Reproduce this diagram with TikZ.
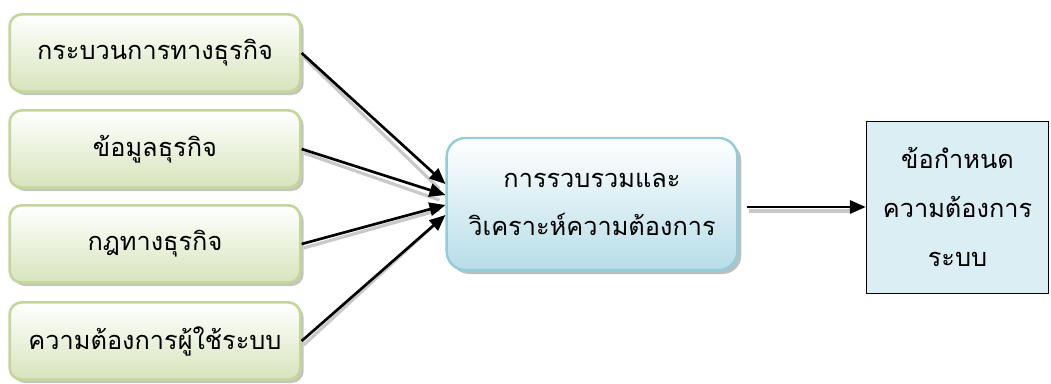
\documentclass[tikz,border=0pt]{standalone}
\usepackage{fontspec}
\newfontfamily\thaifont[Script=Thai]{Loma}
\usetikzlibrary{calc,arrows.meta,shadows}
\definecolor{greenline}{HTML}{C3D69B}
\definecolor{greenfill}{HTML}{D7E4BC}
\definecolor{blueline}{HTML}{92CDDC}
\definecolor{bluefill}{HTML}{B7DDE8}
\definecolor{outfill}{HTML}{DBEEF4}
\definecolor{shade}{HTML}{A5A5A5}
\tikzset{
  srcbox/.style={draw=greenline, line width=2pt, rounded corners=9pt,
    top color=white, bottom color=greenfill, minimum width=218pt, minimum height=58pt,
    drop shadow={shadow xshift=2.5pt, shadow yshift=-2.5pt, fill=shade!70!greenfill, opacity=0.8},
    font=\thaifont\fontsize{19}{22}\selectfont},
  procbox/.style={draw=blueline, line width=1.8pt, rounded corners=14pt,
    top color=white, bottom color=bluefill, minimum width=218pt, minimum height=99pt,
    drop shadow={shadow xshift=3pt, shadow yshift=-3pt, fill=shade!80!bluefill, opacity=0.8},
    align=center, font=\thaifont\fontsize{19}{36}\selectfont},
  outbox/.style={draw=black, line width=0.6pt, fill=outfill, minimum width=137pt,
    minimum height=129pt, align=center, font=\thaifont\fontsize{19}{37}\selectfont},
  flow/.style={draw=black, line width=2pt, -{Triangle[length=12pt,width=10pt]}},
  flowshade/.style={draw=shade!60, line width=2.4pt},
}
\begin{document}
\begin{tikzpicture}[x=0.75pt,y=-0.75pt]
  \useasboundingbox (0,0) rectangle (1051,383);
  % input boxes
  \node[srcbox] (proc) at (155,53) {กระบวนการทางธุรกิจ};
  \node[srcbox] (data) at (155,149) {ข้อมูลธุรกิจ};
  \node[srcbox] (rule) at (155,244) {กฎทางธุรกิจ};
  \node[srcbox] (user) at (155,341) {ความต้องการผู้ใช้ระบบ};
  % gather and analyse
  \node[procbox] (mid) at (592,204) {การรวบรวมและ\\วิเคราะห์ความต้องการ};
  % result
  \node[outbox] (req) at (957.5,207) {ข้อกำหนด\\ความต้องการ\\ระบบ};
  % arrows
  \coordinate (in1) at ($(mid.west)+(0,-20)$);
  \coordinate (in2) at ($(mid.west)+(0,-9)$);
  \coordinate (in3) at ($(mid.west)+(0,1)$);
  \coordinate (in4) at ($(mid.west)+(0,11)$);
  \coordinate (out) at ($(mid.east)+(8,0)$);
  \foreach \s/\t in {proc/in1,data/in2,rule/in3,user/in4}
    \draw[flowshade] ($(\s.east)+(2,4)$) -- ($(\t)+(-6,5)$);
  \draw[flowshade] ($(out |- req.west)+(2,4)$) -- ($(req.west)+(-14,4)$);
  \draw[flow] (proc.east) -- (in1);
  \draw[flow] (data.east) -- (in2);
  \draw[flow] (rule.east) -- (in3);
  \draw[flow] (user.east) -- (in4);
  \draw[flow] (out |- req.west) -- (req.west);
\end{tikzpicture}
\end{document}
